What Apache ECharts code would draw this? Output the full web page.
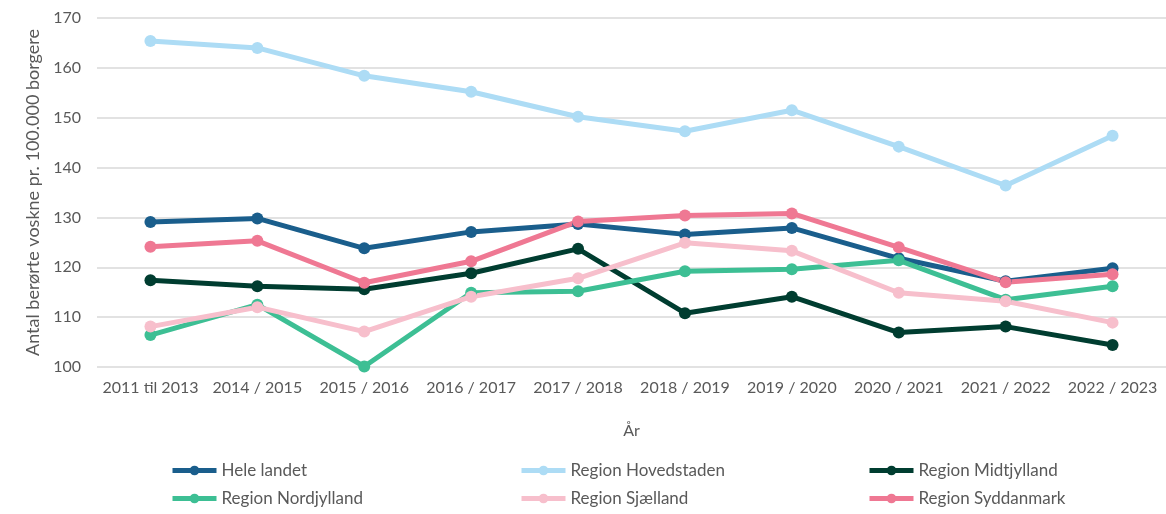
<!DOCTYPE html>
<html>
<head>
<meta charset="utf-8">
<script src="https://cdn.jsdelivr.net/npm/echarts@6/dist/echarts.min.js"></script>
<style>
  html, body { margin: 0; padding: 0; background: #fff; }
  #chart { width: 1166px; height: 514px; }
</style>
</head>
<body>
<div id="chart"></div>
<script>
const years = ['2011 til 2013', '2014 / 2015', '2015 / 2016', '2016 / 2017', '2017 / 2018',
  '2018 / 2019', '2019 / 2020', '2020 / 2021', '2021 / 2022', '2022 / 2023']

const heleLandet = [129.1, 129.8, 123.8, 127.1, 128.7, 126.6, 127.9, 121.8, 117.2, 119.8]
const hovedstaden = [165.4, 164.0, 158.4, 155.2, 150.2, 147.3, 151.5, 144.2, 136.4, 146.4]
const midtjylland = [117.4, 116.2, 115.6, 118.8, 123.7, 110.8, 114.1, 106.9, 108.1, 104.4]
const nordjylland = [106.4, 112.5, 100.1, 114.9, 115.2, 119.2, 119.6, 121.4, 113.5, 116.2]
const sjaelland = [108.1, 112.0, 107.1, 114.1, 117.8, 124.9, 123.3, 114.9, 113.2, 108.9]
const syddanmark = [124.1, 125.3, 116.9, 121.2, 129.2, 130.4, 130.8, 124.0, 117.0, 118.6]

const yTicks = { min: 100, max: 170, interval: 10 }

const font = 'Lato'
const grey = '#595959'

const chart = echarts.init(document.getElementById('chart'))

const line = (name, data, color) => ({
  name,
  type: 'line',
  data,
  symbol: 'circle',
  symbolSize: 12,
  itemStyle: { color },
  lineStyle: { color, width: 5 },
  emphasis: { disabled: true },
  animation: false,
})

const legend = (left, names) => ({
  orient: 'vertical',
  left,
  top: 457,
  height: 70,
  itemWidth: 44,
  itemHeight: 12,
  itemGap: 11,
  data: names,
  lineStyle: { width: 5 },
  textStyle: { fontFamily: font, fontSize: 17, color: grey },
})

chart.setOption({
  backgroundColor: '#fff',
  grid: { left: 97, top: 18, width: 1074, height: 349 },
  xAxis: {
    type: 'category',
    data: years,
    name: 'År',
    nameLocation: 'middle',
    nameGap: 56,
    nameTextStyle: { fontFamily: font, fontSize: 16, color: grey },
    axisLine: { show: false },
    axisTick: { show: false },
    axisLabel: { fontFamily: font, fontSize: 16, color: grey, margin: 13, interval: 0 },
  },
  yAxis: {
    type: 'value',
    min: yTicks.min,
    max: yTicks.max,
    interval: yTicks.interval,
    name: 'Antal berørte voskne pr. 100.000 borgere',
    nameLocation: 'middle',
    nameRotate: 90,
    nameGap: 55,
    nameTextStyle: { fontFamily: font, fontSize: 18, color: grey },
    axisLabel: { fontFamily: font, fontSize: 16, color: grey, margin: 16 },
    splitLine: { lineStyle: { color: '#d9d9d9', width: 1.5 } },
  },
  legend: [
    legend(165, ['Hele landet', 'Region Nordjylland']),
    legend(514, ['Region Hovedstaden', 'Region Sjælland']),
    legend(862, ['Region Midtjylland', 'Region Syddanmark']),
  ],
  series: [
    line('Hele landet', heleLandet, '#1a5e8c'),
    line('Region Hovedstaden', hovedstaden, '#addcf5'),
    line('Region Midtjylland', midtjylland, '#003d30'),
    line('Region Nordjylland', nordjylland, '#3dbf94'),
    line('Region Sjælland', sjaelland, '#f7bfcc'),
    line('Region Syddanmark', syddanmark, '#ef7893'),
  ],
})
</script>
</body>
</html>
